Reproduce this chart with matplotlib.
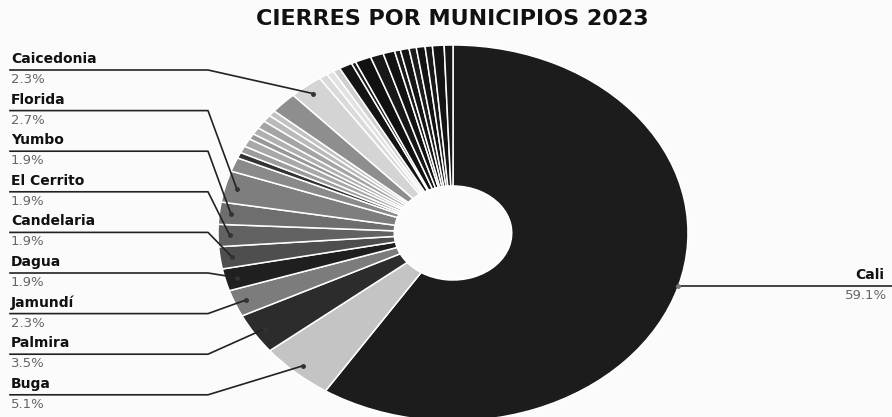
import numpy as np
import matplotlib
matplotlib.use('Agg')
import matplotlib.pyplot as plt

# named municipalities, clockwise from 12 o'clock
nombres = ['Cali', 'Buga', 'Palmira', 'Jamundí', 'Dagua', 'Candelaria',
           'El Cerrito', 'Yumbo', 'Florida']
valores = [59.1, 5.1, 3.5, 2.3, 1.9, 1.9, 1.9, 1.9, 2.7]
grises = ['#1c1c1c', '#c4c4c4', '#2c2c2c', '#7c7c7c', '#1f1f1f', '#4e4e4e',
          '#626262', '#6e6e6e', '#7e7e7e']

# small unlabeled slices between Florida and Caicedonia
otros_gris = [1.2, 0.5, 0.6, 0.7, 0.5, 0.6, 0.7, 0.6, 0.5, 1.85]
col_gris = ['#8a8a8a', '#333333', '#9c9c9c', '#a8a8a8', '#979797', '#b0b0b0',
            '#a4a4a4', '#bababa', '#c2c2c2', '#8e8e8e']

caicedonia = 2.3

# light slices after Caicedonia, then the black ones up to the top
otros_claro = [0.6, 0.5, 0.5]
col_claro = ['#dadada', '#e2e2e2', '#d0d0d0']
otros_negro = [0.9, 0.3, 1.1, 0.9, 0.8, 0.4, 0.6, 0.5, 0.6, 0.5, 0.8, 0.6]
col_negro = ['#141414', '#1c1c1c', '#111111', '#181818', '#121212', '#1a1a1a',
             '#151515', '#1d1d1d', '#131313', '#191919', '#141414', '#171717']

vals = valores + otros_gris + [caicedonia] + otros_claro + otros_negro
cols = grises + col_gris + ['#d4d4d4'] + col_claro + col_negro
labs = nombres + [''] * len(otros_gris) + ['Caicedonia'] + [''] * (len(otros_claro) + len(otros_negro))

W, H = 892, 417
fig = plt.figure(figsize=(W / 100, H / 100), dpi=100)
fig.patch.set_facecolor('#fbfbfb')

# pie axes placed in pixel box (x 218-688, y 45-421 from top)
ax = fig.add_axes([218 / W, (H - 421) / H, 470 / W, 376 / H])
wedges, _ = ax.pie(vals, colors=cols, startangle=90, counterclock=False,
                   wedgeprops=dict(width=0.75, edgecolor='white', linewidth=1.1))
ax.set_aspect('auto')
ax.set_xlim(-1, 1)
ax.set_ylim(-1, 1)

# overlay in pixel coords (y down) for labels and leader lines
ov = fig.add_axes([0, 0, 1, 1])
ov.set_xlim(0, W)
ov.set_ylim(H, 0)
ov.axis('off')
ov.patch.set_alpha(0)

def to_px(x, y):
    p = ax.transData.transform((x, y))
    return ov.transData.inverted().transform(p)

total = sum(vals)
acc = 0
mids = {}
for v, l in zip(vals, labs):
    if l:
        ang = np.deg2rad(90 - (acc + v / 2) / total * 360)
        mids[l] = ang
    acc += v

FONT = 'DejaVu Sans'
izq = ['Caicedonia', 'Florida', 'Yumbo', 'El Cerrito', 'Candelaria',
       'Dagua', 'Jamundí', 'Palmira', 'Buga']
pct = dict(zip(labs, vals))

for i, n in enumerate(izq):
    ly = 70 + i * 40.6
    dx, dy = to_px(0.95 * np.cos(mids[n]), 0.95 * np.sin(mids[n]))
    ov.plot([10, 208, dx], [ly, ly, dy], color='#222222', lw=1.2)
    ov.plot(dx, dy, 'o', color='#333333', ms=2.5)
    ov.text(11, ly - 4, n, fontsize=10, fontweight='bold', family=FONT,
            color='#111111', va='bottom', ha='left')
    ov.text(11, ly + 3, '{:.1f}%'.format(pct[n]), fontsize=9.5, family=FONT,
            color='#666666', va='top', ha='left')

# Cali on the right
dx, dy = to_px(1.0 * np.cos(mids['Cali']), 1.0 * np.sin(mids['Cali']))
ov.plot([dx, W], [dy, dy], color='#222222', lw=1.2)
ov.plot(dx, dy, 'o', color='#777777', ms=2.5)
ov.text(884, dy - 4, 'Cali', fontsize=10, fontweight='bold', family=FONT,
        color='#111111', va='bottom', ha='right')
ov.text(887, dy + 3, '59.1%', fontsize=9.5, family=FONT,
        color='#666666', va='top', ha='right')

ov.text(452, 19, 'CIERRES POR MUNICIPIOS 2023', fontsize=16, fontweight='bold',
        family=FONT, color='#111111', ha='center', va='center')

fig.savefig('out.png', dpi=100, facecolor=fig.get_facecolor())
